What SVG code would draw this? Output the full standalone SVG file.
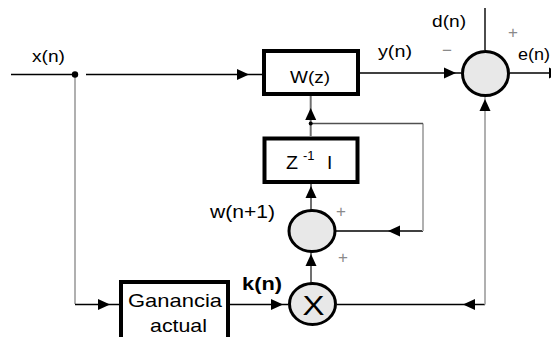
<svg xmlns="http://www.w3.org/2000/svg" xmlns:xlink="http://www.w3.org/1999/xlink" width="551" height="337" viewBox="0 0 551 337">
<style>
.t{font-family:"Liberation Sans",Arial,sans-serif;fill:#000;}
.sg{font-family:"Liberation Sans",Arial,sans-serif;fill:#8a8a8a;text-anchor:middle;}
.box{fill:#fff;stroke:#000;stroke-width:4;}
.sum{fill:#e8e8e8;stroke:#000;stroke-width:3;}
.bl{fill:none;stroke:#000;stroke-width:1.4;}
.gl{fill:none;stroke:#b0b0b0;stroke-width:2;}
.ml{fill:none;stroke:#707070;stroke-width:2;}
.dl{fill:none;stroke:#505050;stroke-width:1.5;}
</style>
<defs>
<path id="ah" d="M0,0 L-12,-5.5 L-12,5.5 Z" fill="#000"/>
</defs>
<rect width="551" height="337" fill="#fff"/>
<g id="connectors">
<path class="bl" d="M11,74.5 H78 M86,74.5 H262"/>
<path class="bl" d="M360,73 H461"/>
<path class="bl" d="M510,73 H551"/>
<path class="bl" d="M485,8 V50"/>
<path class="gl" d="M75,75 V304"/>
<path class="bl" d="M75,304.5 H119"/>
<path class="bl" d="M230,304.5 H288"/>
<path class="bl" d="M337,304.5 H485"/>
<path class="gl" d="M485,304.5 V97"/>
<path class="bl" d="M336,231 H423"/>
<path class="gl" d="M423,231 V123.5"/>
<path class="dl" d="M423,123.5 H311"/>
<path class="ml" d="M310.7,96 V136"/>
<path class="ml" d="M311,184 V210"/>
<path class="ml" d="M311,252 V284"/>
<circle cx="75" cy="74.5" r="3.2" fill="#000"/>
<circle cx="310.7" cy="123.5" r="2" fill="#000"/>
<use xlink:href="#ah" transform="translate(249,74.5)"/>
<use xlink:href="#ah" transform="translate(456,73)"/>
<use xlink:href="#ah" transform="translate(561,73)"/>
<use xlink:href="#ah" transform="translate(310.7,108) rotate(-90)"/>
<use xlink:href="#ah" transform="translate(485,99) rotate(-90)"/>
<use xlink:href="#ah" transform="translate(311,186) rotate(-90)"/>
<use xlink:href="#ah" transform="translate(311,254) rotate(-90)"/>
<use xlink:href="#ah" transform="translate(388,231) rotate(180)"/>
<use xlink:href="#ah" transform="translate(463,304.5) rotate(180)"/>
<use xlink:href="#ah" transform="translate(110,304.5)"/>
<use xlink:href="#ah" transform="translate(283,304.5)"/>
</g>
<g id="labels">
<text class="t" x="32" y="62" font-size="16" textLength="33" lengthAdjust="spacingAndGlyphs">x(n)</text>
<text class="t" x="378" y="56.5" font-size="16" textLength="34" lengthAdjust="spacingAndGlyphs">y(n)</text>
<text class="t" x="432" y="26.5" font-size="16" textLength="34" lengthAdjust="spacingAndGlyphs">d(n)</text>
<text class="t" x="518" y="59.5" font-size="16" textLength="32" lengthAdjust="spacingAndGlyphs">e(n)</text>
<text class="t" x="210" y="218" font-size="18" textLength="65" lengthAdjust="spacingAndGlyphs">w(n+1)</text>
<text class="t" x="242" y="290" font-size="18" font-weight="bold" textLength="40" lengthAdjust="spacingAndGlyphs">k(n)</text>
<text class="sg" x="513" y="38" font-size="17">+</text>
<text class="sg" x="447" y="56" font-size="17">−</text>
<text class="sg" x="341" y="217" font-size="17">+</text>
<text class="sg" x="343" y="263" font-size="17">+</text>
</g>
<g id="wz">
<rect class="box" x="264" y="51" width="94" height="43"/>
<text class="t" x="290" y="83" font-size="17" textLength="40" lengthAdjust="spacingAndGlyphs">W(z)</text>
</g>
<g id="zi">
<rect class="box" x="264.5" y="138.5" width="93" height="43.5"/>
<text class="t" x="286" y="169" font-size="19" textLength="12" lengthAdjust="spacingAndGlyphs">Z</text>
<text class="t" x="303" y="160" font-size="13">-1</text>
<text class="t" x="327" y="169" font-size="19">I</text>
</g>
<g id="ganancia">
<rect class="box" x="121" y="282" width="107" height="64"/>
<text class="t" x="128" y="307" font-size="19" textLength="94" lengthAdjust="spacingAndGlyphs">Ganancia</text>
<text class="t" x="150" y="332" font-size="19" textLength="57" lengthAdjust="spacingAndGlyphs">actual</text>
</g>
<g id="sum1">
<ellipse class="sum" cx="485.5" cy="73.5" rx="23" ry="22"/>
</g>
<g id="sum2">
<ellipse class="sum" cx="312" cy="231" rx="23" ry="20.5"/>
</g>
<g id="mult">
<ellipse class="sum" cx="312.5" cy="304" rx="23" ry="20.5"/>
<text class="t" x="313.5" y="315" font-size="28" text-anchor="middle" textLength="22" lengthAdjust="spacingAndGlyphs">X</text>
</g>
</svg>
